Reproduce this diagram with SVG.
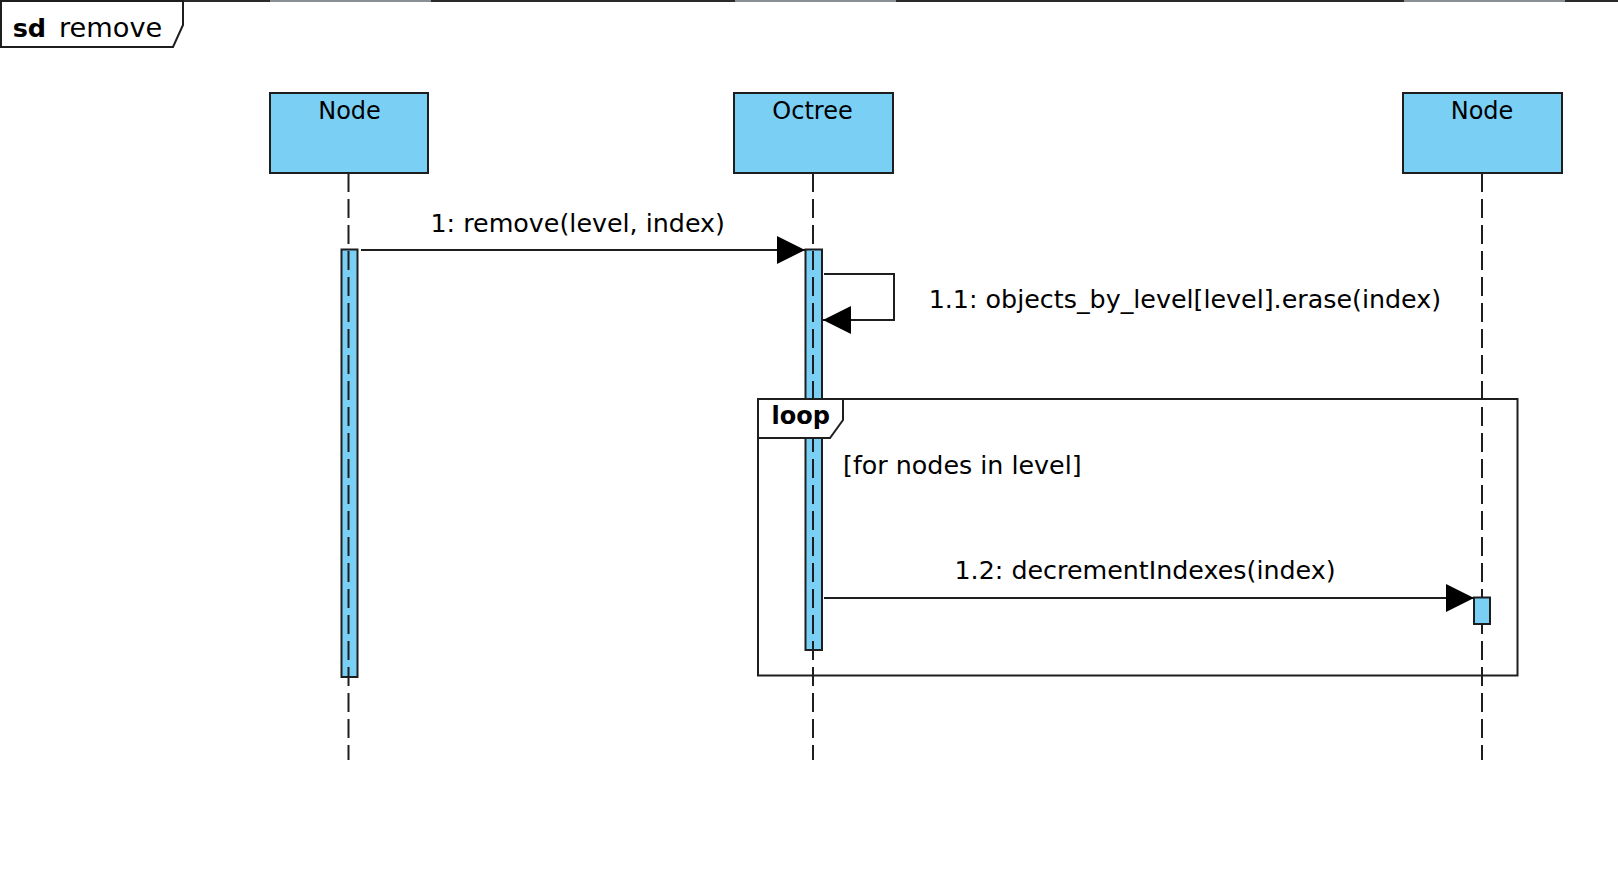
<svg xmlns="http://www.w3.org/2000/svg" width="1618" height="872" viewBox="0 0 1618 872">
<style>
.box{fill:#7acff5;stroke:#1e1e1e;stroke-width:2}
.life{stroke:#1e1e1e;stroke-width:2;stroke-dasharray:19 7;fill:none}
.act{fill:#7acff5;stroke:#1e1e1e;stroke-width:2}
.msg{stroke:#1e1e1e;stroke-width:2;fill:none}
.t{font-family:"DejaVu Sans",sans-serif;fill:#000}
.m{font-size:25.35px}
.frame{fill:#fff;stroke:#1e1e1e;stroke-width:2}
</style>
<defs>
<marker id="ah" markerWidth="28" markerHeight="28" viewBox="0 0 28 28" refX="28" refY="14" markerUnits="userSpaceOnUse" orient="auto">
<path d="M0,0 L28,14 L0,28 Z" fill="#000"/>
</marker>
</defs>
<rect width="1618" height="872" fill="#fff"/>
<g id="frame-top">
<rect x="0" y="0" width="1618" height="2" fill="#2a2a2a"/>
<rect x="270" y="0" width="161" height="2" fill="#8a8f94"/>
<rect x="735" y="0" width="161" height="2" fill="#8a8f94"/>
<rect x="1404" y="0" width="161" height="2" fill="#8a8f94"/>
</g>
<g id="sd-frame">
<path class="frame" d="M1,1 L183,1 L183,25 L173,47 L1,47 Z"/>
<text class="t" x="12.7" y="36.7" font-size="25.5" font-weight="bold">sd</text>
<text class="t" x="59" y="36.7" font-size="27.2">remove</text>
</g>
<g id="node1">
<rect class="box" x="270" y="93" width="158" height="80"/>
<text class="t" x="349.5" y="119.3" font-size="24" text-anchor="middle">Node</text>
<rect class="act" x="341.5" y="249.5" width="16" height="427.5"/>
<line class="life" x1="348.5" y1="173" x2="348.5" y2="760"/>
</g>
<g id="octree">
<rect class="box" x="734" y="93" width="159" height="80"/>
<text class="t" x="812.5" y="119.3" font-size="24" text-anchor="middle">Octree</text>
<rect class="act" x="805.5" y="249.5" width="16.5" height="400.5"/>
<line class="life" x1="813" y1="173" x2="813" y2="760"/>
</g>
<g id="node2">
<rect class="box" x="1403" y="93" width="159" height="80"/>
<text class="t" x="1482" y="119.3" font-size="24" text-anchor="middle">Node</text>
<line class="life" x1="1482" y1="173" x2="1482" y2="760"/>
<rect class="act" x="1474" y="597.5" width="16" height="26.5"/>
</g>
<g id="loop">
<rect x="758" y="399" width="759.5" height="276.5" fill="none" stroke="#1e1e1e" stroke-width="2"/>
<path class="frame" d="M758,399 L843,399 L843,420 L830,438 L758,438 Z"/>
<text class="t" x="771.5" y="423.5" font-size="24" font-weight="bold">loop</text>
<text class="t m" x="843" y="473.5">[for nodes in level]</text>
</g>
<g id="connectors">
<line class="msg" x1="361" y1="250" x2="805" y2="250" marker-end="url(#ah)"/>
<text class="t m" x="430.5" y="231.5">1: remove(level, index)</text>
<polyline class="msg" points="824,274 894,274 894,320 823,320" marker-end="url(#ah)"/>
<text class="t m" x="928.7" y="307.5">1.1: objects_by_level[level].erase(index)</text>
<line class="msg" x1="824" y1="598" x2="1474" y2="598" marker-end="url(#ah)"/>
<text class="t m" x="954.5" y="579">1.2: decrementIndexes(index)</text>
</g>
</svg>
